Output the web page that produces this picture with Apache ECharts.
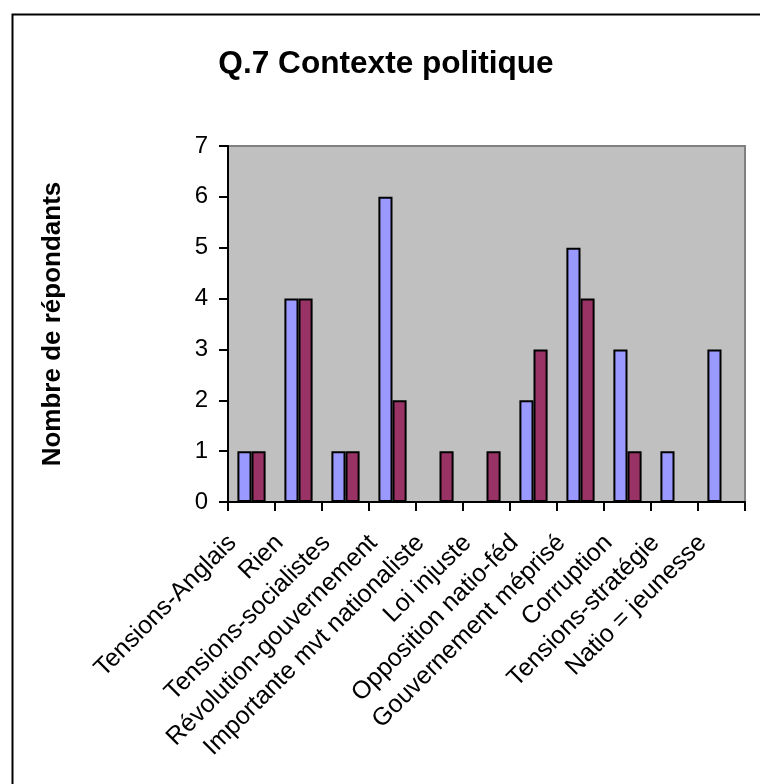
<!DOCTYPE html>
<html>
<head>
<meta charset="utf-8">
<script src="https://cdn.jsdelivr.net/npm/echarts@6/dist/echarts.min.js"></script>
<style>
html,body{margin:0;padding:0;background:#fff;}
#chart{width:760px;height:784px;}
</style>
</head>
<body>
<div id="chart"></div>
<script>
const categories = ["Tensions-Anglais","Rien","Tensions-socialistes","Révolution-gouvernement","Importante mvt nationaliste","Loi injuste","Opposition natio-féd","Gouvernement méprisé","Corruption","Tensions-stratégie","Natio = jeunesse"];
const series1 = [1,4,1,6,0,0,2,5,3,1,3];
const series2 = [1,4,1,2,1,1,3,4,1,0,0];
const yTicks = [0,1,2,3,4,5,6,7];

const chart = echarts.init(document.getElementById('chart'));
const font = "'Liberation Sans', Arial, sans-serif";
chart.setOption({
  animation: false,
  backgroundColor: '#ffffff',
  textStyle: {fontFamily: font},
  title: {
    text: 'Q.7 Contexte politique',
    left: 381, top: 43, textAlign: 'center',
    textStyle: {fontFamily: font, fontSize: 31.6, fontWeight: 'bold', color: '#000'}
  },
  graphic: [{
    type: 'rect', left: 10, top: 12, z: 100,
    shape: {x: 0, y: 0, width: 800, height: 800},
    style: {fill: 'none', stroke: '#000', lineWidth: 2}
  }],
  grid: {
    left: 228, right: 15, top: 146, bottom: 282,
    show: true, backgroundColor: '#C0C0C0', borderColor: '#808080', borderWidth: 2
  },
  xAxis: {
    type: 'category',
    data: categories,
    axisLine: {lineStyle: {color: '#000', width: 2}},
    axisTick: {show: true, length: 9, lineStyle: {color: '#000', width: 2}},
    axisLabel: {rotate: 45, interval: 0, margin: 18, fontSize: 25, color: '#000', fontFamily: font, padding: [0, 27, 0, 0]},
    splitLine: {show: false}
  },
  yAxis: {
    type: 'value',
    min: yTicks[0], max: yTicks[yTicks.length-1], interval: 1,
    name: 'Nombre de répondants',
    nameLocation: 'middle', nameGap: 162, nameRotate: 90,
    nameTextStyle: {fontFamily: font, fontSize: 26, fontWeight: 'bold', color: '#000'},
    axisLine: {show: true, lineStyle: {color: '#000', width: 2}},
    axisTick: {show: true, length: 9, lineStyle: {color: '#000', width: 2}},
    axisLabel: {margin: 20, fontSize: 24, color: '#000', fontFamily: font},
    splitLine: {show: false}
  },
  series: [
    {type: 'bar', data: series1, barGap: '0%', barCategoryGap: '40%',
     itemStyle: {color: '#9999FF', borderColor: '#000', borderWidth: 2}},
    {type: 'bar', data: series2, barGap: '0%', barCategoryGap: '40%',
     itemStyle: {color: '#993366', borderColor: '#000', borderWidth: 2}}
  ]
});
</script>
</body>
</html>
